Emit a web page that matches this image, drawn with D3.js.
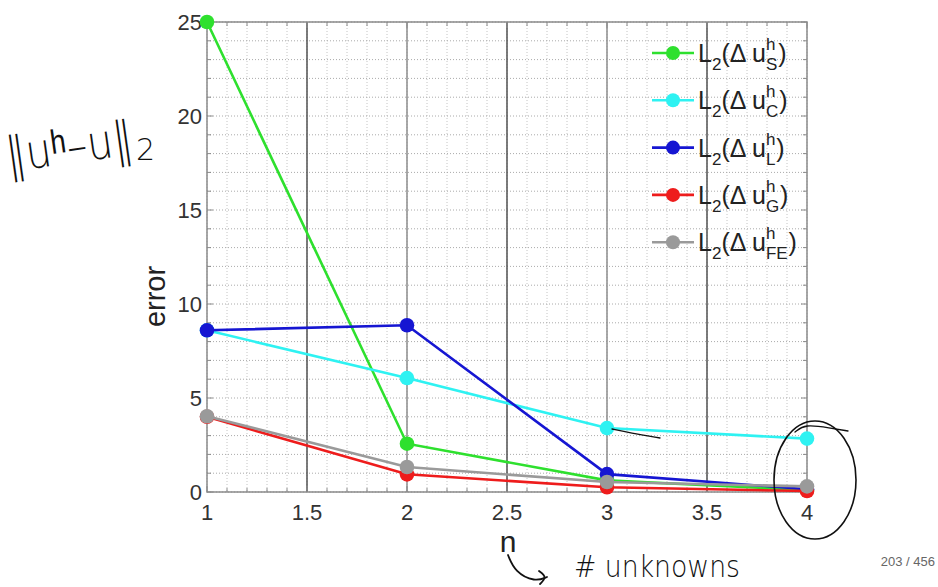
<!DOCTYPE html>
<html>
<head>
<meta charset="utf-8">
<script src="https://cdn.jsdelivr.net/npm/d3@7"></script>
<style>
  body { margin: 0; background: #fff; }
  svg { display: block; font-family: "Liberation Sans", Arial, sans-serif; }
</style>
</head>
<body>
<div id="chart"></div>
<script>
// values
const nVals = [1, 2, 3, 4];
const errS = [25, 2.57, 0.62, 0.1];
const errC = [8.6, 6.06, 3.4, 2.84];
const errL = [8.6, 8.87, 0.95, 0.15];
const errG = [4.0, 0.94, 0.25, 0.05];
const errFE = [4.03, 1.33, 0.53, 0.3];
const seriesKeys = ["S", "C", "L", "G", "FE"];
const seriesColors = ["#2ee02e", "#2ef2f2", "#1616d2", "#ee1c1c", "#9a9a9a"];
const xTicks = [1, 1.5, 2, 2.5, 3, 3.5, 4];
const yTicks = [0, 5, 10, 15, 20, 25];

const series = [errS, errC, errL, errG, errFE].map((vals, i) => ({
  key: seriesKeys[i],
  color: seriesColors[i],
  points: vals.map((v, j) => ({ n: nVals[j], e: v })),
}));

const W = 938, H = 587;
const margin = { top: 22, left: 207, right: 131, bottom: 95 };
const innerW = W - margin.left - margin.right;
const innerH = H - margin.top - margin.bottom;

const svg = d3.select("#chart").append("svg").attr("width", W).attr("height", H);

const x = d3.scaleLinear().domain([1, 4]).range([margin.left, margin.left + innerW]);
const y = d3.scaleLinear().domain([0, 25]).range([margin.top + innerH, margin.top]);

const grid = svg.append("g");

// minor grid
grid.selectAll("line.vminor")
  .data(d3.range(10, 41).map((d) => d / 10))
  .join("line")
  .attr("x1", (d) => x(d)).attr("x2", (d) => x(d))
  .attr("y1", y(25)).attr("y2", y(0))
  .attr("stroke", "#c4c4c4").attr("stroke-width", 1)
  .attr("stroke-dasharray", "1,2");

grid.selectAll("line.hminor")
  .data(d3.range(0, 26))
  .join("line")
  .attr("x1", x(1)).attr("x2", x(4))
  .attr("y1", (d) => y(d)).attr("y2", (d) => y(d))
  .attr("stroke", "#aaaaaa").attr("stroke-width", 1)
  .attr("stroke-dasharray", "1,2");

// major vertical grid
grid.selectAll("line.vmajor")
  .data(xTicks.slice(1, -1))
  .join("line")
  .attr("x1", (d) => x(d)).attr("x2", (d) => x(d))
  .attr("y1", y(25)).attr("y2", y(0))
  .attr("stroke", (d) => (d % 1 === 0 ? "#8c8c8c" : "#505050"))
  .attr("stroke-width", 1.5);

// frame
svg.append("rect")
  .attr("x", x(1)).attr("y", y(25))
  .attr("width", innerW).attr("height", innerH)
  .attr("fill", "none").attr("stroke", "#8a8a8a").attr("stroke-width", 1.5);

// inward ticks
const tk = svg.append("g").attr("stroke", "#8a8a8a").attr("stroke-width", 1);
d3.range(10, 41).map((d) => d / 10).forEach((d) => {
  const len = Math.abs(d * 2 - Math.round(d * 2)) < 1e-6 ? 6 : 4;
  tk.append("line").attr("x1", x(d)).attr("x2", x(d)).attr("y1", y(0)).attr("y2", y(0) - len);
  tk.append("line").attr("x1", x(d)).attr("x2", x(d)).attr("y1", y(25)).attr("y2", y(25) + len);
});
d3.range(0, 26).forEach((d) => {
  const len = d % 5 === 0 ? 6 : 4;
  tk.append("line").attr("x1", x(1)).attr("x2", x(1) + len).attr("y1", y(d)).attr("y2", y(d));
  tk.append("line").attr("x1", x(4)).attr("x2", x(4) - len).attr("y1", y(d)).attr("y2", y(d));
});

// tick labels
svg.append("g").selectAll("text")
  .data(xTicks)
  .join("text")
  .attr("x", (d) => x(d)).attr("y", y(0) + 28)
  .attr("text-anchor", "middle")
  .attr("font-size", 22).attr("fill", "#333")
  .text((d) => d);

svg.append("g").selectAll("text")
  .data(yTicks)
  .join("text")
  .attr("x", x(1) - 5).attr("y", (d) => y(d) + 8)
  .attr("text-anchor", "end")
  .attr("font-size", 22).attr("fill", "#333")
  .text((d) => d);

// axis titles
svg.append("text")
  .attr("transform", `translate(165,${y(10.4)}) rotate(-90)`)
  .attr("text-anchor", "middle")
  .attr("font-size", 29).attr("fill", "#222")
  .text("error");

svg.append("text")
  .attr("x", 508).attr("y", 552)
  .attr("text-anchor", "middle")
  .attr("font-size", 30).attr("fill", "#222")
  .text("n");

// lines and markers
const line = d3.line().x((d) => x(d.n)).y((d) => y(d.e));
const plot = svg.append("g");
series.forEach((s) => {
  plot.append("path")
    .datum(s.points)
    .attr("d", line)
    .attr("fill", "none")
    .attr("stroke", s.color)
    .attr("stroke-width", 2.6);
  plot.selectAll(null)
    .data(s.points)
    .join("circle")
    .attr("cx", (d) => x(d.n)).attr("cy", (d) => y(d.e))
    .attr("r", 7.3)
    .attr("fill", s.color);
});

// legend
const legend = svg.append("g");
series.forEach((s, i) => {
  const ly = 53 + i * 47.3;
  const g = legend.append("g").attr("transform", `translate(652,${ly})`);
  g.append("line").attr("x1", 0).attr("x2", 42).attr("y1", 0).attr("y2", 0)
    .attr("stroke", s.color).attr("stroke-width", 2.6);
  g.append("circle").attr("cx", 21).attr("cy", 0).attr("r", 7).attr("fill", s.color);

  let cx = 46;
  const put = (txt, size, dy) => {
    const t = g.append("text").attr("x", cx).attr("y", dy)
      .attr("font-size", size).attr("fill", "#222").text(txt);
    return t.node().getComputedTextLength();
  };
  cx += put("L", 25, 9);
  cx += put("2", 17, 17);
  cx += put("(\u0394 u", 25, 9);
  const w1 = put("h", 17, -3);
  const w2 = put(s.key, 17, 17);
  cx += Math.max(w1, w2) + 1;
  put(")", 25, 9);
});

// page number
svg.append("text")
  .attr("x", 935).attr("y", 566)
  .attr("text-anchor", "end")
  .attr("font-size", 13).attr("fill", "#666")
  .text("203 / 456");

// handwritten annotations
const ink = svg.append("g").attr("fill", "none").attr("stroke", "#111")
  .attr("stroke-width", 1.8).attr("stroke-linecap", "round");

const hand = svg.append("g").attr("fill", "#111")
  .attr("font-family", "'DejaVu Sans', sans-serif").attr("font-weight", 200);

hand.append("text")
  .attr("transform", "translate(8,172) rotate(-8)")
  .attr("font-size", 48)
  .attr("textLength", 128).attr("lengthAdjust", "spacingAndGlyphs")
  .text("\u2016u\u02b0\u2013u\u2016");
hand.append("text")
  .attr("x", 136).attr("y", 160)
  .attr("font-size", 30)
  .text("2");

hand.append("text")
  .attr("x", 574).attr("y", 577)
  .attr("font-size", 30)
  .attr("textLength", 166).attr("lengthAdjust", "spacingAndGlyphs")
  .text("# unknowns");

const curve = d3.line().curve(d3.curveBasis);
ink.append("path").attr("d", curve([[508, 555], [515, 572], [535, 582], [547, 577]]));
ink.append("path").attr("d", curve([[539, 571], [547, 577], [540, 584]]));
ink.append("ellipse").attr("cx", 815).attr("cy", 480).attr("rx", 41).attr("ry", 59)
  .attr("stroke-width", 1.6);
ink.append("path").attr("d", curve([[612, 429], [630, 433], [660, 438]])).attr("stroke-width", 1.3);
ink.append("path").attr("d", curve([[795, 432], [805, 424], [830, 428], [848, 431]])).attr("stroke-width", 1.3);
</script>
</body>
</html>
